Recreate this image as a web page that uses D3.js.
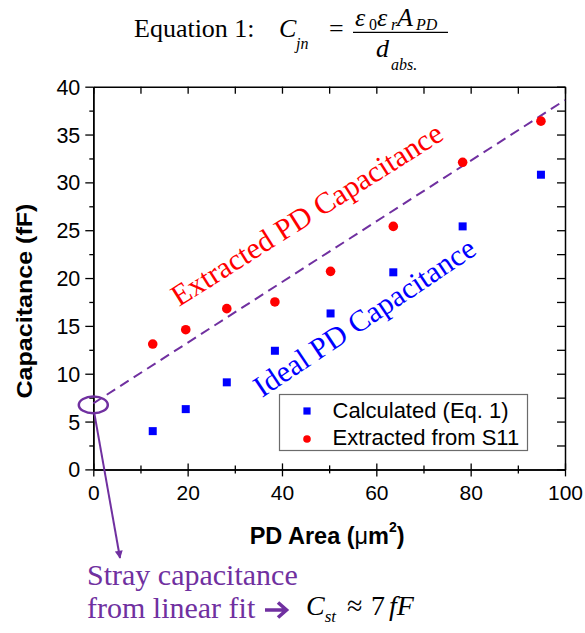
<!DOCTYPE html>
<html>
<head>
<meta charset="utf-8">
<script src="https://cdn.jsdelivr.net/npm/d3@7"></script>
<style>
  html, body { margin: 0; padding: 0; background: #fff; }
  svg { display: block; }
</style>
</head>
<body>
<svg id="chart" width="585" height="633"></svg>
<script>
// Photodiode area (µm²) of each device
const pdArea = [12.6, 19.6, 28.3, 38.5, 50.3, 63.6, 78.3, 94.9];
// Capacitance from Eq. 1 (fF)
const calculatedCap = [4.0, 6.3, 9.1, 12.4, 16.3, 20.6, 25.4, 30.8];
// Capacitance extracted from S11 (fF)
const extractedCap = [13.1, 14.6, 16.8, 17.5, 20.7, 25.4, 32.1, 36.4];
// Linear fit of the extracted values
const fitIntercept = 6.9;
const fitSlope = 0.317;
const fitRange = [0, 100];

const xTicks = [0, 20, 40, 60, 80, 100];
const xMinorTicks = [10, 30, 50, 70, 90];
const yTicks = [0, 5, 10, 15, 20, 25, 30, 35, 40];
const yMinorTicks = [2.5, 7.5, 12.5, 17.5, 22.5, 27.5, 32.5, 37.5];
const legendLabels = ["Calculated (Eq. 1)", "Extracted from S11"];

const SANS = "'Liberation Sans', Arial, sans-serif";
const SERIF = "'Liberation Serif', 'Times New Roman', serif";
const PURPLE = "#7030a0";

const svg = d3.select("#chart");
const x = d3.scaleLinear().domain([0, 100]).range([93.3, 565]);
const y = d3.scaleLinear().domain([0, 40]).range([469.4, 86.7]);

// ---------- axes ----------
function styleAxis(g) {
  g.selectAll(".domain").attr("stroke", "#000").attr("stroke-width", 1.5);
  g.selectAll(".tick line").attr("stroke", "#000").attr("stroke-width", 1.3);
  g.selectAll("text").attr("font-family", SANS).attr("font-size", 21).attr("fill", "#000");
}

// left
svg.append("g").attr("transform", `translate(${x(0)},0)`)
  .call(d3.axisLeft(y).tickValues(yMinorTicks).tickSize(4).tickSizeOuter(0).tickFormat(""))
  .call(styleAxis);
svg.append("g").attr("transform", `translate(${x(0)},0)`)
  .call(d3.axisLeft(y).tickValues(yTicks).tickSize(8).tickSizeOuter(0).tickPadding(5).tickFormat(d3.format("d")))
  .call(styleAxis)
  .call(g => g.selectAll("text").attr("dy", "0.35em").attr("font-size", 21.5));

// right (ticks point inward)
svg.append("g").attr("transform", `translate(${x(100)},0)`)
  .call(d3.axisRight(y).tickValues(yTicks.concat(yMinorTicks)).tickSize(-8).tickSizeOuter(0).tickFormat(""))
  .call(styleAxis);

// top (ticks point inward)
svg.append("g").attr("transform", `translate(0,${y(40)})`)
  .call(d3.axisTop(x).tickValues(xTicks.concat(xMinorTicks)).tickSize(-7).tickSizeOuter(0).tickFormat(""))
  .call(styleAxis);

// bottom (ticks cross the axis line)
svg.append("g").attr("transform", `translate(0,${y(0)})`)
  .call(d3.axisBottom(x).tickValues(xMinorTicks).tickSize(4).tickSizeOuter(0).tickFormat(""))
  .call(styleAxis)
  .call(g => g.selectAll(".tick line").attr("y1", -4));
svg.append("g").attr("transform", `translate(0,${y(0)})`)
  .call(d3.axisBottom(x).tickValues(xTicks).tickSize(7).tickSizeOuter(0).tickPadding(9).tickFormat(d3.format("d")))
  .call(styleAxis)
  .call(g => g.selectAll(".tick line").attr("y1", -6));

// axis titles
svg.append("text")
  .attr("transform", `translate(32,${(y(0) + y(40)) / 2 + 23}) rotate(-90)`)
  .attr("text-anchor", "middle")
  .attr("font-family", SANS).attr("font-weight", "bold").attr("font-size", 22)
  .attr("textLength", 195).attr("lengthAdjust", "spacingAndGlyphs")
  .text("Capacitance (fF)");

const xTitle = svg.append("text")
  .attr("x", (x(0) + x(100)) / 2 - 2).attr("y", 544)
  .attr("text-anchor", "middle")
  .attr("font-family", SANS).attr("font-weight", "bold").attr("font-size", 23.5);
xTitle.append("tspan").text("PD Area (");
xTitle.append("tspan").attr("font-weight", "normal").text("μ");
xTitle.append("tspan").text("m");
xTitle.append("tspan").attr("font-size", 14).attr("dy", -12).text("2");
xTitle.append("tspan").attr("dy", 12).text(")");

// ---------- linear fit ----------
svg.append("line")
  .attr("x1", x(fitRange[0])).attr("y1", y(fitIntercept + fitSlope * fitRange[0]))
  .attr("x2", x(fitRange[1])).attr("y2", y(fitIntercept + fitSlope * fitRange[1]))
  .attr("stroke", PURPLE).attr("stroke-width", 2).attr("stroke-dasharray", "10,6");

// ---------- data ----------
const sq = 8;
svg.append("g").selectAll("rect").data(pdArea).join("rect")
  .attr("x", (d) => x(d) - sq / 2)
  .attr("y", (d, i) => y(calculatedCap[i]) - sq / 2)
  .attr("width", sq).attr("height", sq)
  .attr("fill", "#0000ff");

svg.append("g").selectAll("circle").data(pdArea).join("circle")
  .attr("cx", (d) => x(d))
  .attr("cy", (d, i) => y(extractedCap[i]))
  .attr("r", 4.8)
  .attr("fill", "#ff0000");

// ---------- slanted labels ----------
svg.append("text")
  .attr("transform", "translate(179,307) rotate(-32.3)")
  .attr("font-family", SERIF).attr("font-size", 30).attr("fill", "#ff0000")
  .text("Extracted PD Capacitance");
svg.append("text")
  .attr("transform", "translate(262,398) rotate(-33.8)")
  .attr("font-family", SERIF).attr("font-size", 30).attr("fill", "#0000ff")
  .text("Ideal PD Capacitance");

// ---------- legend ----------
const legend = svg.append("g").attr("transform", "translate(279.5,394.5)");
legend.append("rect").attr("width", 248).attr("height", 56)
  .attr("fill", "#fff").attr("stroke", "#6b6b6b").attr("stroke-width", 1.2);
legend.append("rect").attr("x", 27.5 - 3.6).attr("y", 16.5 - 3.6).attr("width", 7.2).attr("height", 7.2).attr("fill", "#0000ff");
legend.append("circle").attr("cx", 27.5).attr("cy", 44.5).attr("r", 3.8).attr("fill", "#ff0000");
legend.selectAll("text.lbl").data(legendLabels).join("text")
  .attr("class", "lbl")
  .attr("x", 53).attr("y", (d, i) => 23.5 + i * 27)
  .attr("font-family", SANS).attr("font-size", 22).attr("fill", "#000")
  .text((d) => d);

// ---------- stray capacitance callout ----------
const ex = x(0), ey = y(fitIntercept) + 1.5;
svg.append("ellipse")
  .attr("cx", ex).attr("cy", ey).attr("rx", 14.5).attr("ry", 8.3)
  .attr("fill", "none").attr("stroke", PURPLE).attr("stroke-width", 2.5);

svg.append("defs").append("marker")
  .attr("id", "head").attr("viewBox", "0 0 10 10")
  .attr("refX", 9).attr("refY", 5)
  .attr("markerWidth", 10).attr("markerHeight", 8)
  .attr("markerUnits", "userSpaceOnUse")
  .attr("orient", "auto")
  .append("path").attr("d", "M0,0 L10,5 L0,10 Z").attr("fill", PURPLE);

svg.append("line")
  .attr("x1", ex + 1).attr("y1", ey + 8.3)
  .attr("x2", 120).attr("y2", 558)
  .attr("stroke", PURPLE).attr("stroke-width", 2)
  .attr("marker-end", "url(#head)");

svg.append("text").attr("x", 87).attr("y", 585)
  .attr("font-family", SERIF).attr("font-size", 30).attr("fill", PURPLE)
  .text("Stray capacitance");
svg.append("text").attr("x", 87).attr("y", 618)
  .attr("font-family", SERIF).attr("font-size", 30).attr("fill", PURPLE)
  .text("from linear fit");
// bold arrow after "fit"
svg.append("path")
  .attr("d", "M265,610 H285 M278,602.5 L286.5,610 L278,617.5")
  .attr("fill", "none").attr("stroke", PURPLE).attr("stroke-width", 3.6)
  .attr("stroke-linejoin", "miter");

const cst = svg.append("text").attr("x", 306).attr("y", 615)
  .attr("font-family", SERIF).attr("font-size", 28).attr("fill", "#000");
cst.append("tspan").attr("font-style", "italic").text("C");
cst.append("tspan").attr("font-style", "italic").attr("font-size", 17).attr("dy", 7).attr("dx", 0).text("st");
cst.append("tspan").attr("dy", -7).attr("x", 347).text("≈");
cst.append("tspan").attr("x", 371).text("7");
cst.append("tspan").attr("x", 389).attr("font-style", "italic").text("fF");

// ---------- equation header ----------
const eq = svg.append("g").attr("font-family", SERIF).attr("fill", "#000");
eq.append("text").attr("x", 134).attr("y", 37).attr("font-size", 26).text("Equation 1:");
eq.append("text").attr("x", 279).attr("y", 37).attr("font-size", 26).attr("font-style", "italic").text("C");
eq.append("text").attr("x", 296).attr("y", 49).attr("font-size", 16).attr("font-style", "italic").text("jn");
eq.append("text").attr("x", 329).attr("y", 37).attr("font-size", 26).text("=");
eq.append("line").attr("x1", 353).attr("x2", 448).attr("y1", 32.3).attr("y2", 32.3)
  .attr("stroke", "#000").attr("stroke-width", 1.2);
const num = eq.append("text").attr("x", 355).attr("y", 26).attr("font-size", 26);
num.append("tspan").attr("font-style", "italic").text("ε");
num.append("tspan").attr("x", 369).attr("dy", 4).attr("font-size", 16).text("0");
num.append("tspan").attr("x", 377).attr("dy", -4).attr("font-style", "italic").text("ε");
num.append("tspan").attr("x", 391).attr("dy", 4).attr("font-size", 16).attr("font-style", "italic").text("r");
num.append("tspan").attr("x", 397).attr("dy", -4).attr("font-style", "italic").text("A");
num.append("tspan").attr("x", 416).attr("dy", 4).attr("font-size", 16).attr("font-style", "italic").text("PD");
const den = eq.append("text").attr("x", 376).attr("y", 57).attr("font-size", 26);
den.append("tspan").attr("font-style", "italic").text("d");
den.append("tspan").attr("x", 391).attr("dy", 13).attr("font-size", 16).attr("font-style", "italic").text("abs.");
</script>
</body>
</html>
